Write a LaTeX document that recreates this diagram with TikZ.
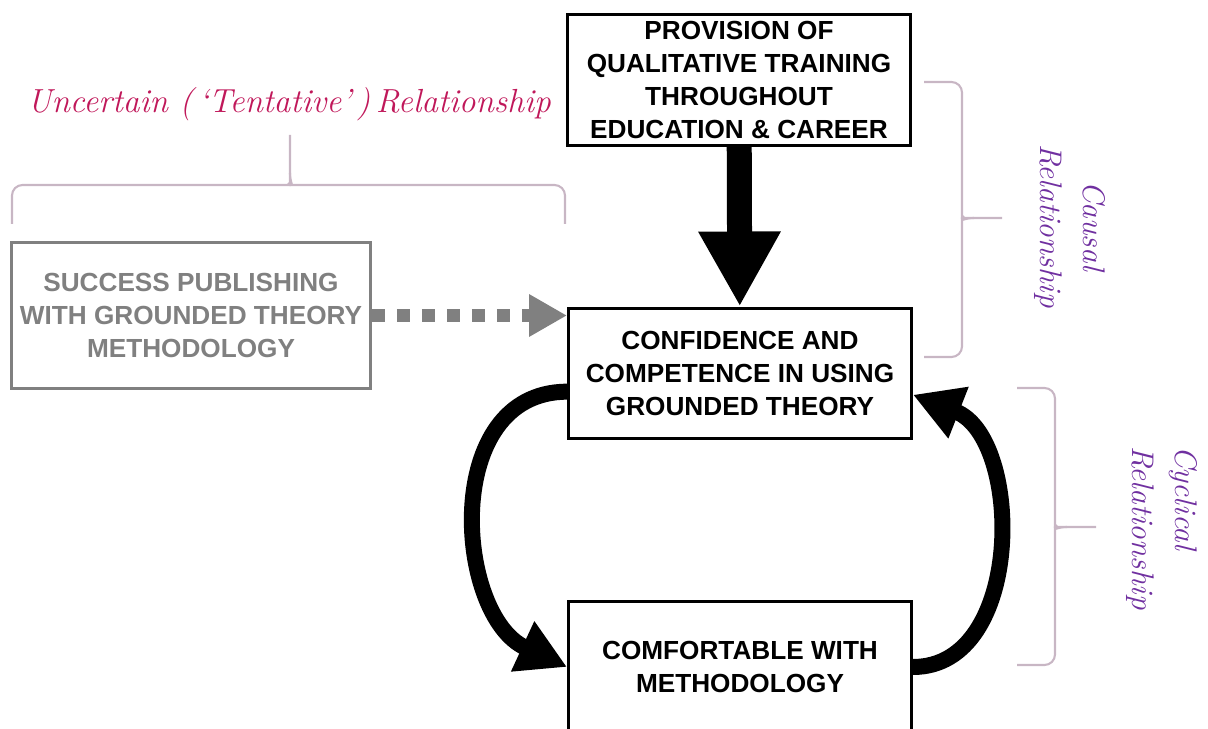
\documentclass[tikz,border=0pt]{standalone}
\usepackage{fontspec}
\usepackage{tikz}
\usetikzlibrary{arrows,arrows.meta,positioning}
\newfontfamily\boxfont{Liberation Sans}
\definecolor{relpink}{RGB}{192,24,90}
\definecolor{relpurple}{RGB}{112,48,160}
\definecolor{bracegray}{RGB}{200,182,196}
\definecolor{fadegray}{RGB}{128,128,128}
\tikzset{relbrace/.style={draw=bracegray,line width=1.2pt,rounded corners=6pt}}

\begin{document}
\begin{tikzpicture}[x=0.02cm,y=-0.02cm]%
        %\draw[step=50,color=gray,very thin] (0,0) grid (1208,729);%%
        \useasboundingbox (0,0) rectangle (1208,729);
        \begin{scope}[shape=rectangle,inner sep=0pt,minimum width=6.86cm,minimum height=2.62cm]
        \tikzstyle{every node}=[draw,line width=1.7pt,align=center,font=\boxfont\bfseries\fontsize{14.9}{18.7}\selectfont] %%
        \node (prov) at (739,80)  {PROVISION OF\\QUALITATIVE TRAINING\\THROUGHOUT\\EDUCATION \& CAREER}; %%
        \node (conf) at (740,373.5)  {CONFIDENCE AND\\COMPETENCE IN USING\\GROUNDED THEORY}; %%
        \node (comf) at (740,667)  {COMFORTABLE WITH\\METHODOLOGY}; %%
        \node[draw=fadegray,text=fadegray,minimum width=7.18cm,minimum height=2.92cm] (succ) at (191,315.5)  {SUCCESS PUBLISHING\\WITH GROUNDED THEORY\\METHODOLOGY}; %%
        \end{scope}
        \node[text=relpink,font=\itshape\fontsize{19}{22}\selectfont] (unc) at (289,104)  {Uncertain (\,‘Tentative’\,)\,Relationship}; %%
        \node[text=relpurple,rotate=-90,align=center,font=\itshape\fontsize{17.8}{25}\selectfont] (caus) at (1070,226)  {Causal\\Relationship}; %%
        \node[text=relpurple,rotate=-90,align=left,font=\itshape\fontsize{17.8}{25}\selectfont] (cycl) at (1162,528)  {Cyclical\\Relationship}; %%
        \draw[line width=0.5cm,-{Triangle[length=1.5cm,width=1.54cm]}] (prov)--(conf);  %%
        \draw[fadegray,line width=0.26cm,dash pattern=on 0.26cm off 0.24cm,-{Triangle[length=0.76cm,width=0.8cm]}] (succ)--(succ -| conf.west);  %%
        \draw[line width=0.32cm,-{Triangle[length=0.98cm,width=1.04cm]}] (conf.186) .. controls (440,392) and (455,615) .. (comf.west);  %%
        \draw[line width=0.32cm,-{Triangle[length=0.98cm,width=1.04cm]}] (comf.east) .. controls (1025,667) and (1023,438) .. (conf.353);  %%
        \draw[relbrace] (12,224)--(12,185)--(278,185) .. controls (287,185) and (290,182) .. (290,173)--(290,135); %%
        \draw[relbrace] (565,224)--(565,185)--(302,185) .. controls (293,185) and (290,182) .. (290,173); %%
        \draw[relbrace] (924,82)--(962,82)--(962,206) .. controls (962,215) and (965,218) .. (974,218)--(1002,218); %%
        \draw[relbrace] (924,357)--(962,357)--(962,230) .. controls (962,221) and (965,218) .. (974,218); %%
        \draw[relbrace] (1017,388)--(1055,388)--(1055,515) .. controls (1055,524) and (1058,527) .. (1067,527)--(1096,527); %%
        \draw[relbrace] (1017,665)--(1055,665)--(1055,539) .. controls (1055,530) and (1058,527) .. (1067,527); %%
\end{tikzpicture}
\end{document}
